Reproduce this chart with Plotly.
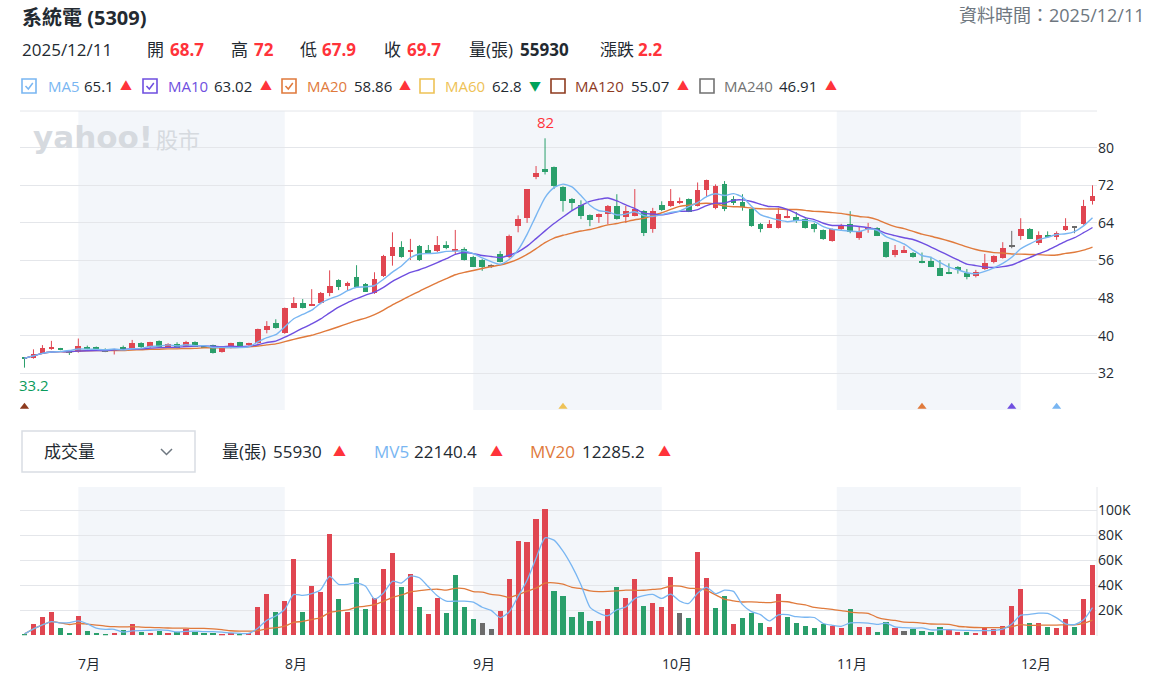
import numpy as np
import pandas as pd
import plotly.graph_objects as go

W, H = 1158, 690


def px(x):
    return x / W


def py(y):
    return 1 - y / H


# ---------------- data ----------------
stock_name = "系統電"
stock_code = "5309"
holidays = ["2025-09-29", "2025-10-06", "2025-10-10", "2025-10-24"]
trade_dates = [d for d in pd.bdate_range("2025-06-23", "2025-12-11")
               if d.strftime("%Y-%m-%d") not in holidays]

open_ = [35.3, 35.2, 36.2, 37.2, 37.3, 36.8, 36.5, 37.6, 37.6, 37.2,
         36.9, 37.6, 37.3, 38.4, 37.5, 38.9, 37.5, 38.2, 37.7, 38.7,
         37.6, 38.0, 36.5, 37.4, 38.6, 38.1, 38.4, 41.3, 42.6, 40.6,
         46.0, 46.9, 46.5, 46.9, 49.0, 51.8, 50.6, 52.4, 51.0, 49.1,
         52.7, 57.0, 58.8, 58.0, 59.1, 58.2, 58.0, 59.3, 58.1, 58.4,
         56.8, 56.1, 54.7, 57.4, 56.8, 63.3, 65.0, 73.8, 75.4, 75.8,
         71.6, 69.1, 67.8, 65.7, 65.2, 66.0, 67.7, 65.3, 65.5, 66.5,
         62.6, 67.8, 67.7, 68.2, 69.0, 67.7, 71.1, 67.1, 72.3, 69.0,
         68.5, 66.9, 63.8, 63.0, 63.0, 65.2, 65.3, 64.8, 63.8, 62.5,
         60.1, 62.8, 63.8, 60.7, 62.6, 63.0, 59.9, 57.2, 57.7, 57.5,
         56.0, 55.9, 54.5, 53.4, 54.6, 53.3, 52.6, 54.1, 55.6, 56.5,
         58.9, 61.2, 62.8, 59.8, 61.4, 61.1, 62.5, 63.0, 63.8, 68.7]
high = [35.3, 37.1, 38.0, 38.9, 37.4, 36.9, 39.4, 37.9, 37.7, 37.3,
        37.2, 37.9, 39.1, 38.6, 38.7, 39.0, 38.4, 38.6, 38.9, 38.8,
        37.8, 38.1, 37.6, 38.5, 38.7, 38.5, 41.5, 43.1, 43.5, 46.0,
        48.2, 47.8, 49.9, 49.3, 53.9, 52.0, 51.5, 55.0, 51.2, 53.5,
        57.2, 62.0, 60.1, 60.6, 59.3, 59.3, 61.2, 60.1, 62.5, 58.8,
        57.0, 56.3, 55.2, 58.0, 61.5, 65.6, 71.2, 76.1, 82.0, 76.0,
        71.8, 69.3, 68.8, 65.8, 66.0, 67.8, 70.1, 67.6, 71.2, 66.7,
        67.2, 68.6, 71.2, 69.4, 69.2, 72.6, 73.2, 72.2, 72.9, 69.7,
        70.1, 67.0, 64.0, 64.6, 67.2, 66.9, 66.3, 65.0, 64.0, 62.6,
        62.8, 63.8, 66.5, 63.2, 64.0, 63.1, 60.0, 59.3, 59.1, 57.8,
        57.7, 56.8, 56.1, 55.4, 54.8, 54.2, 54.0, 57.4, 57.1, 59.9,
        62.3, 65.0, 62.9, 62.2, 62.2, 62.2, 65.0, 63.1, 68.9, 72.0]
low = [33.2, 35.1, 36.1, 37.0, 36.9, 35.9, 36.4, 37.1, 37.0, 36.5,
       36.0, 36.8, 37.2, 37.4, 37.4, 37.4, 37.4, 37.3, 37.6, 37.6,
       37.4, 36.2, 36.4, 37.3, 37.6, 37.9, 38.3, 40.5, 41.5, 40.4,
       45.9, 45.8, 46.3, 46.7, 48.4, 49.7, 49.6, 50.2, 49.3, 48.9,
       52.5, 54.9, 56.6, 56.1, 55.9, 57.4, 57.8, 58.4, 57.4, 56.0,
       54.6, 53.8, 54.4, 55.6, 56.5, 62.0, 64.0, 73.3, 74.3, 71.2,
       66.4, 66.7, 64.8, 63.3, 64.0, 63.7, 64.7, 64.0, 65.4, 61.2,
       61.9, 66.5, 67.4, 68.0, 66.3, 67.5, 69.5, 66.9, 66.5, 67.8,
       66.6, 63.2, 62.0, 62.9, 62.8, 65.0, 64.0, 62.8, 62.0, 60.4,
       60.0, 62.5, 61.8, 60.4, 61.9, 61.2, 56.6, 56.7, 57.6, 56.6,
       55.4, 54.6, 52.7, 53.1, 53.2, 52.0, 52.4, 54.0, 55.4, 56.4,
       58.6, 60.4, 60.6, 59.3, 60.9, 60.4, 62.3, 61.8, 63.6, 67.9]
close = [35.2, 36.2, 37.3, 37.4, 37.0, 36.3, 37.8, 37.2, 37.1, 36.6,
         37.1, 36.9, 38.4, 37.5, 38.6, 37.5, 38.2, 37.4, 38.6, 37.7,
         37.5, 36.3, 37.5, 38.4, 37.7, 38.3, 41.4, 42.1, 41.6, 46.0,
         46.9, 46.0, 46.6, 49.1, 50.6, 50.3, 51.3, 50.3, 49.4, 52.1,
         57.0, 58.8, 56.8, 58.2, 56.1, 57.5, 59.3, 58.6, 58.5, 56.2,
         54.7, 54.7, 54.7, 55.7, 61.3, 64.9, 71.2, 74.7, 74.9, 71.8,
         68.7, 68.2, 65.5, 64.6, 65.9, 67.6, 64.8, 66.5, 67.0, 61.9,
         66.6, 66.8, 68.7, 68.7, 66.4, 71.0, 73.1, 71.8, 66.9, 68.3,
         67.4, 63.3, 62.8, 63.8, 65.9, 65.5, 64.5, 63.0, 62.6, 60.5,
         62.6, 63.5, 62.0, 62.2, 63.2, 61.3, 56.7, 58.2, 58.2, 56.7,
         55.5, 54.7, 52.8, 53.2, 53.9, 52.4, 53.6, 55.4, 56.9, 58.6,
         58.9, 62.7, 60.6, 61.5, 61.0, 61.9, 63.4, 63.0, 67.5, 69.7]
volume = [1100, 9100, 14900, 18900, 5900, 1900, 15700, 3700, 1900, 800,
          1900, 4300, 9100, 2900, 1900, 3700, 1900, 2900, 5100, 2900,
          1900, 1900, 800, 1900, 800, 1900, 22900, 32800, 18900, 27700,
          61100, 18900, 39700, 34900, 81100, 29100, 18900, 45900, 21100, 29900,
          53100, 66100, 38900, 49100, 22900, 17100, 29900, 17900, 48500, 22900,
          13100, 9900, 5100, 19700, 45100, 75700, 74900, 93100, 101100, 35700,
          31700, 14900, 18900, 11700, 11700, 21100, 38900, 29900, 45100, 23700,
          25900, 22900, 46900, 17900, 13900, 66900, 45900, 21900, 31700, 9100,
          13900, 17900, 9900, 6900, 32800, 14900, 9900, 7700, 5900, 8800,
          7700, 5900, 21100, 6900, 6900, 2900, 10900, 5900, 3700, 5100,
          3700, 2900, 6900, 4300, 2900, 2900, 1900, 6900, 5100, 7700,
          23700, 37100, 9900, 9900, 6900, 5900, 13100, 6900, 29100, 55930]

ma_names = ["MA5", "MA10", "MA20", "MA60", "MA120", "MA240"]
ma_shown = [True, True, True, False, False, False]
ma_legend_values = ["65.1", "63.02", "58.86", "62.8", "55.07", "46.91"]
ma_legend_up = [True, True, True, False, True, True]
mv_legend_values = ["22140.4", "12285.2"]
signal_idx = [0, 60, 100, 110, 115]
signal_ma = ["MA120", "MA60", "MA20", "MA10", "MA5"]

# ---------------- styles ----------------
FONT = "Open Sans, Noto Sans CJK TC, sans-serif"
RED = "#e04651"
GREEN = "#2a9f6b"
GREY = "#6b6b6b"
TXT = "#232a31"
TXT_GREY = "#6e7780"
UP_TXT = "#ff333a"
DOWN_TXT = "#00a35b"
GRID = "#e4e6ea"
BAND = "#f3f6fa"
MA_COLORS = {"MA5": "#79b6f2", "MA10": "#6f4fe0", "MA20": "#e07a3c",
             "MA60": "#eec256", "MA120": "#8e3b1f", "MA240": "#727272"}
MV_COLORS = ["#79b6f2", "#e07a3c"]

PRICE_RANGE = [24.19, 87.81]
VOL_RANGE = [0, 118640]
X_L, X_R = 20, 1097

n = len(close)
idx = np.arange(n)
O = np.array(open_)
Hh = np.array(high)
L = np.array(low)
C = np.array(close)
V = np.array(volume)

cs = pd.Series(close)
mas = {"MA5": cs.rolling(5, min_periods=1).mean(),
       "MA10": cs.rolling(10, min_periods=1).mean(),
       "MA20": cs.rolling(20, min_periods=1).mean()}
vs = pd.Series(volume)
mv5 = vs.rolling(5, min_periods=1).mean()
mv20 = vs.rolling(20, min_periods=1).mean()

body_dir = np.sign(C - O)
chg = np.sign(np.diff(C, prepend=np.nan))
chg[0] = body_dir[0]


def dir_color(d):
    return RED if d > 0 else (GREEN if d < 0 else GREY)


fig = go.Figure()

# candles: wicks + bodies, grouped by colour
for d in (1, -1, 0):
    sel = idx[body_dir == d]
    if len(sel) == 0:
        continue
    col = dir_color(d)
    wx, wy = [], []
    for i in sel:
        wx += [i, i, None]
        wy += [L[i], Hh[i], None]
    fig.add_trace(go.Scatter(x=wx, y=wy, mode="lines", line=dict(color=col, width=1),
                             xaxis="x", yaxis="y", hoverinfo="skip", showlegend=False))
    bottoms = np.minimum(O[sel], C[sel])
    heights = np.maximum(np.abs(C[sel] - O[sel]), 0.22)
    fig.add_trace(go.Bar(x=sel, y=heights, base=bottoms, width=0.64,
                         marker=dict(color=col, line=dict(width=0)),
                         xaxis="x", yaxis="y", hoverinfo="skip", showlegend=False))

# moving averages
for name in ["MA20", "MA10", "MA5"]:
    fig.add_trace(go.Scatter(x=idx, y=mas[name], mode="lines",
                             line=dict(color=MA_COLORS[name], width=1.4, shape="spline", smoothing=0.6),
                             xaxis="x", yaxis="y", hoverinfo="skip", showlegend=False))

# signal triangles
fig.add_trace(go.Scatter(x=signal_idx, y=[PRICE_RANGE[0] + 0.7] * len(signal_idx), mode="markers",
                         marker=dict(symbol="triangle-up", size=8,
                                     color=[MA_COLORS[m] for m in signal_ma]),
                         xaxis="x", yaxis="y", hoverinfo="skip", showlegend=False))

# volume
fig.add_trace(go.Bar(x=idx, y=V, width=0.58,
                     marker=dict(color=[dir_color(d) for d in chg], line=dict(width=0)),
                     xaxis="x2", yaxis="y2", hoverinfo="skip", showlegend=False))
fig.add_trace(go.Scatter(x=idx, y=mv20, mode="lines",
                         line=dict(color=MV_COLORS[1], width=1.3, shape="spline", smoothing=0.6),
                         xaxis="x2", yaxis="y2", hoverinfo="skip", showlegend=False))
fig.add_trace(go.Scatter(x=idx, y=mv5, mode="lines",
                         line=dict(color=MV_COLORS[0], width=1.3, shape="spline", smoothing=0.6),
                         xaxis="x2", yaxis="y2", hoverinfo="skip", showlegend=False))

# ---------------- month bands / labels ----------------
shapes = []
annotations = []
months = pd.period_range(trade_dates[0], trade_dates[-1], freq="M")
dates_idx = pd.DatetimeIndex(trade_dates)
month_pos = []
for m in months:
    first = m.start_time
    pos = int(np.searchsorted(dates_idx, first))
    if pos == 0:
        month_pos.append((m, -0.5))
        continue
    p = float(pos) if dates_idx[pos] == first else pos - 0.5
    month_pos.append((m, p))
bounds = [p for _, p in month_pos] + [n - 0.5]
for k, (m, p) in enumerate(month_pos):
    if m.month % 2 == 1:
        for ya in ("y domain", "y2 domain"):
            shapes.append(dict(type="rect", xref="x" if ya == "y domain" else "x2", yref=ya,
                               x0=p, x1=bounds[k + 1], y0=0, y1=1, fillcolor=BAND,
                               line=dict(width=0), layer="below"))
    if p > 0:
        annotations.append(dict(xref="x2", yref="paper", x=p, y=py(663), text=f"{m.month}月",
                                showarrow=False, xanchor="left", yanchor="middle", xshift=-2,
                                font=dict(size=14, color=TXT, family=FONT)))

# panel borders
shapes.append(dict(type="line", xref="paper", yref="paper", x0=px(X_L), x1=px(X_R),
                   y0=py(111), y1=py(111), line=dict(color=GRID, width=1)))
shapes.append(dict(type="line", xref="paper", yref="paper", x0=px(X_R), x1=px(X_R),
                   y0=py(487), y1=py(636), line=dict(color=GRID, width=1)))


def txt(x, y, s, size=16, color=TXT, anchor="left", bold=False, family=FONT):
    annotations.append(dict(xref="paper", yref="paper", x=px(x), y=py(y),
                            text=f"<b>{s}</b>" if bold else s, showarrow=False,
                            xanchor=anchor, yanchor="middle",
                            font=dict(size=size, color=color, family=family)))


last_date = trade_dates[-1]
# header
txt(20, 17, f"{stock_name} ({stock_code})", size=20, bold=True)
txt(1147, 15, f"資料時間：{last_date:%Y/%m/%d}", size=18, color=TXT_GREY, anchor="right")
y2 = 50
txt(20, y2, f"{last_date:%Y/%m/%d}", size=17)
fmt = lambda v: f"{v:g}"
header_items = [(145, 168, "開", fmt(open_[-1])), (229, 252, "高", fmt(high[-1])),
                (298, 320, "低", fmt(low[-1])), (382, 405, "收", fmt(close[-1]))]
for xl, xv, lab, val in header_items:
    txt(xl, y2, lab, size=17)
    txt(xv, y2, val, size=17, color=UP_TXT, bold=True)
txt(467, y2, "量(張)", size=17)
txt(518, y2, f"{volume[-1]}", size=17, bold=True)
txt(598, y2, "漲跌", size=17)
txt(636, y2, f"{close[-1] - close[-2]:.1f}", size=17, color=UP_TXT, bold=True)

# MA legend row
leg_box = [22, 143, 282, 420, 551, 700]
leg_name_x = [46, 166, 305, 443, 573, 722]
leg_val_x = [82, 212, 352, 490, 629, 777]
leg_arrow_x = [118, 258, 397, 527, 675, 823]
ly = 86
for k, name in enumerate(ma_names):
    bx = leg_box[k]
    col = MA_COLORS[name]
    shapes.append(dict(type="rect", xref="paper", yref="paper", x0=px(bx), x1=px(bx + 14),
                       y0=py(ly + 7), y1=py(ly - 7), line=dict(color=col, width=1.6),
                       fillcolor="white"))
    if ma_shown[k]:
        path = (f"M {px(bx + 3.5)} {py(ly)} L {px(bx + 6.3)} {py(ly + 3)} "
                f"L {px(bx + 10.8)} {py(ly - 3)}")
        shapes.append(dict(type="path", xref="paper", yref="paper", path=path,
                           line=dict(color=col, width=1.5)))
    txt(leg_name_x[k], ly, name, size=15, color=col)
    txt(leg_val_x[k], ly, ma_legend_values[k], size=15, color=TXT)
    up = ma_legend_up[k]
    txt(leg_arrow_x[k], ly, "▲" if up else "▼", size=12, color=UP_TXT if up else DOWN_TXT)

# volume header row
shapes.append(dict(type="rect", xref="paper", yref="paper", x0=px(22), x1=px(195),
                   y0=py(472), y1=py(431), line=dict(color="#d9dde3", width=1.5)))
shapes.append(dict(type="path", xref="paper", yref="paper",
                   path=f"M {px(161)} {py(449)} L {px(166.5)} {py(454.5)} L {px(172)} {py(449)}",
                   line=dict(color=TXT_GREY, width=1.5)))
vy = 451
txt(42, vy, "成交量", size=17)
txt(220, vy, "量(張)", size=17)
txt(271, vy, f"{volume[-1]}", size=17)
txt(331, vy, "▲", size=13, color=UP_TXT)
txt(372, vy, "MV5", size=17, color=MV_COLORS[0])
txt(412, vy, mv_legend_values[0], size=17)
txt(488, vy, "▲", size=13, color=UP_TXT)
txt(528, vy, "MV20", size=17, color=MV_COLORS[1])
txt(580, vy, mv_legend_values[1], size=17)
txt(656, vy, "▲", size=13, color=UP_TXT)

# watermark
txt(31, 137, "yahoo!", size=31, color="#d6dadf", bold=True, family="DejaVu Sans")
txt(154, 138, "股市", size=22, color="#d6dadf", family="Noto Sans CJK TC")

# high / low labels
imax = int(np.argmax(Hh))
imin = int(np.argmin(L))
annotations.append(dict(xref="x", yref="y", x=imax, y=Hh[imax], text=f"{Hh[imax]:g}",
                        showarrow=False, yanchor="bottom", yshift=4,
                        font=dict(size=15, color=UP_TXT, family=FONT)))
annotations.append(dict(xref="x", yref="y", x=imin, y=L[imin], text=f"{L[imin]:g}",
                        showarrow=False, yanchor="top", xanchor="left", xshift=-7, yshift=-5,
                        font=dict(size=15, color="#0a9b5c", family=FONT)))

fig.update_layout(
    width=W, height=H, autosize=False,
    margin=dict(l=0, r=0, t=0, b=0),
    paper_bgcolor="white", plot_bgcolor="white",
    showlegend=False, hovermode=False, barmode="overlay", bargap=0,
    font=dict(family=FONT, color=TXT),
    xaxis=dict(domain=[px(X_L), px(X_R)], range=[-0.5, n - 0.5], anchor="y",
               showticklabels=False, showgrid=False, zeroline=False, fixedrange=True),
    yaxis=dict(domain=[py(410), py(111)], range=PRICE_RANGE, side="right", anchor="x",
               tickvals=[32, 40, 48, 56, 64, 72, 80], showgrid=True, gridcolor=GRID,
               gridwidth=1, zeroline=False, ticks="", automargin=False,
               tickfont=dict(size=14, color=TXT, family=FONT)),
    xaxis2=dict(domain=[px(X_L), px(X_R)], range=[-0.5, n - 0.5], anchor="y2",
                showticklabels=False, showgrid=False, zeroline=False, fixedrange=True),
    yaxis2=dict(domain=[py(635.3), py(487)], range=VOL_RANGE, side="right", anchor="x2",
                tickvals=[0, 20000, 40000, 60000, 80000, 100000],
                ticktext=["", "20K", "40K", "60K", "80K", "100K"],
                showgrid=True, gridcolor=GRID, gridwidth=1, zeroline=False, ticks="",
                automargin=False, tickfont=dict(size=14, color=TXT, family=FONT)),
    shapes=shapes, annotations=annotations,
)

fig.write_html("out.html")
